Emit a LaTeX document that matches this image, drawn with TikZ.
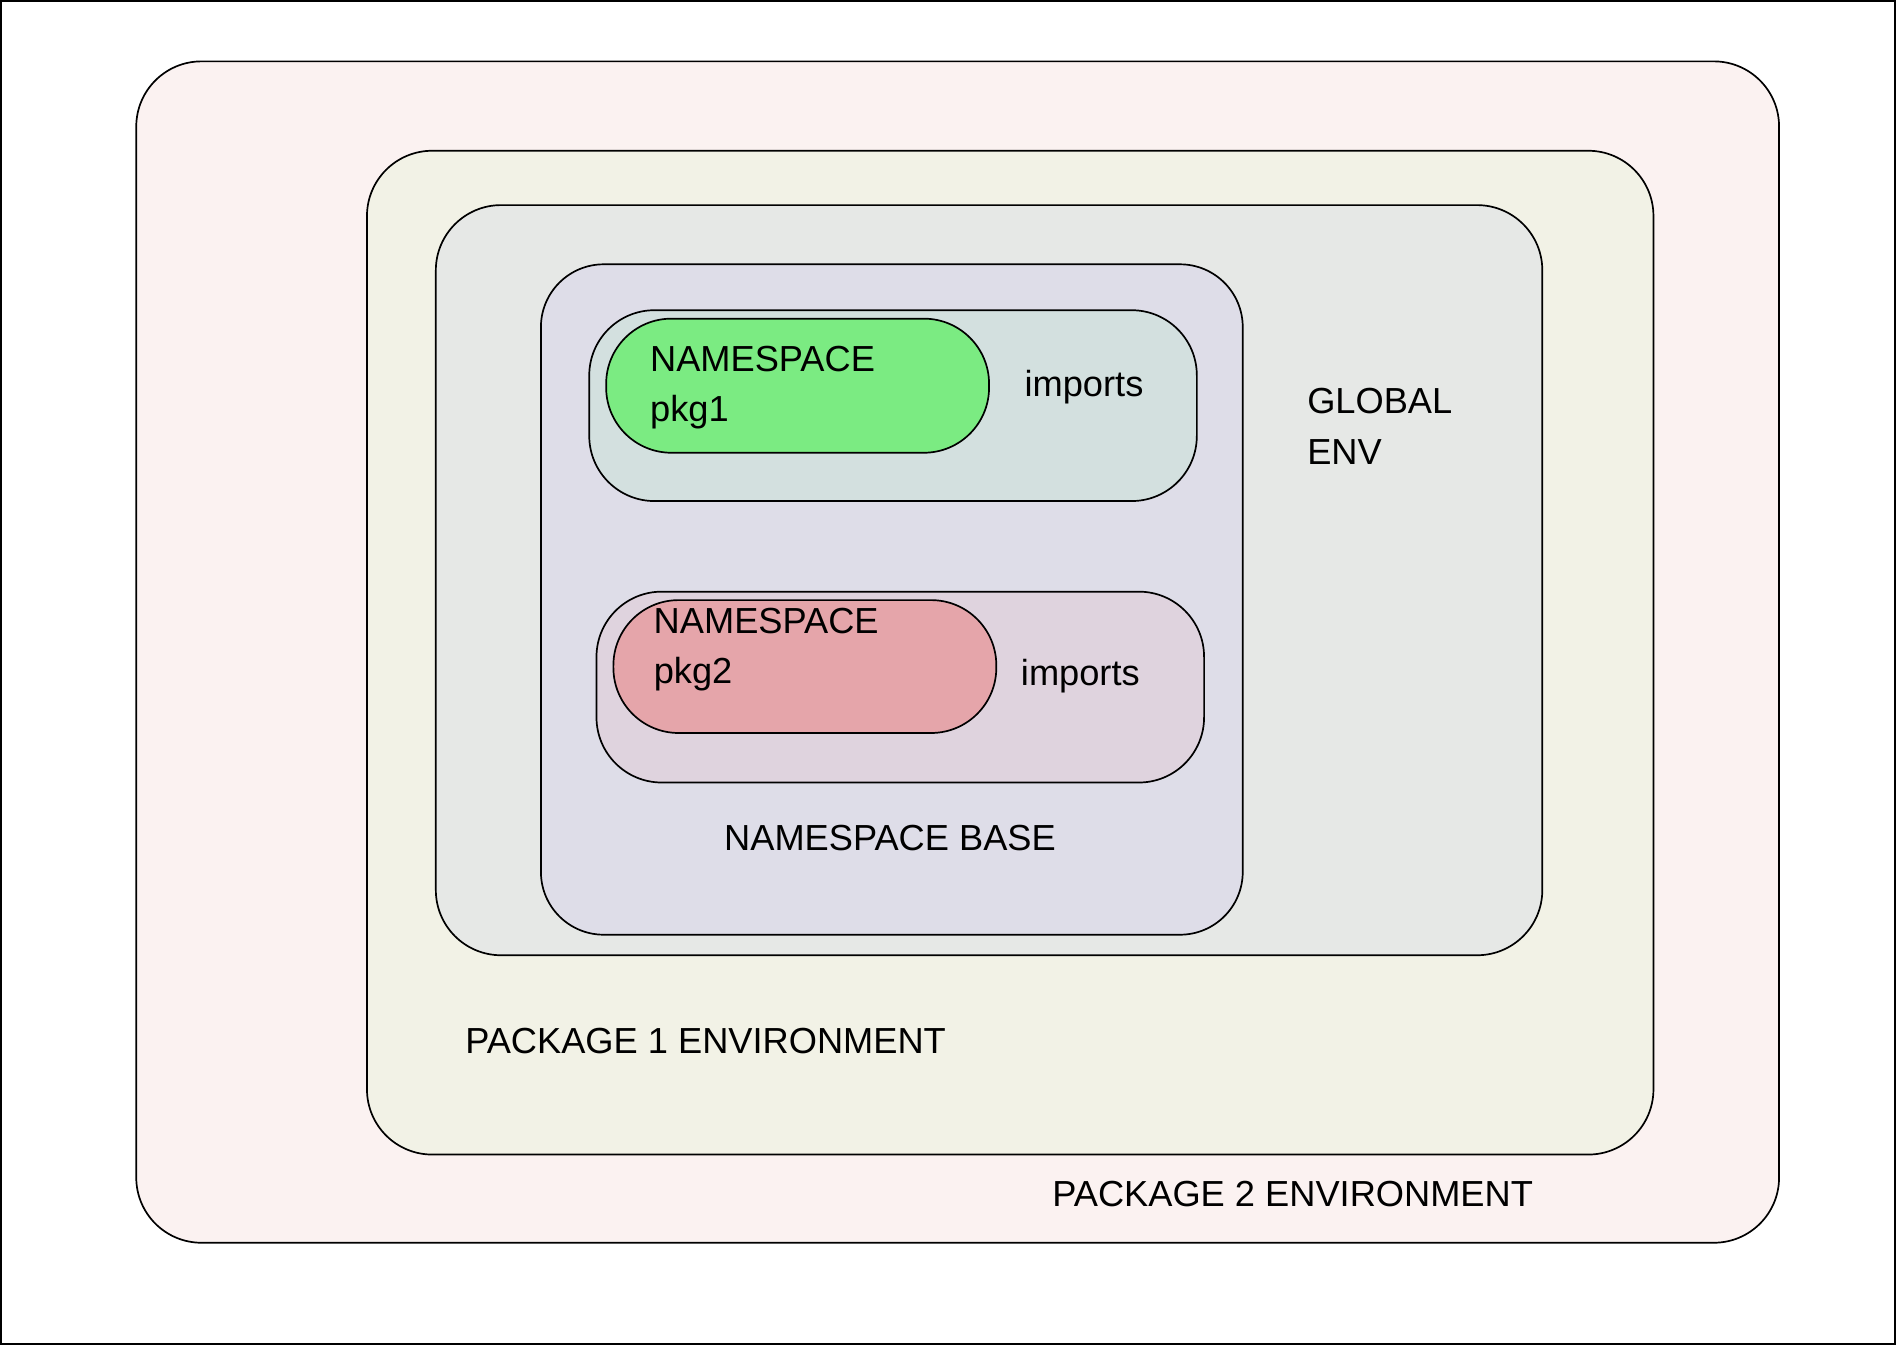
\documentclass[tikz,border=0pt]{standalone}
\usepackage{fontspec}
\setmainfont{Liberation Sans}
\definecolor{cOut}{HTML}{FBF2F1}
\definecolor{cP1}{HTML}{F2F2E6}
\definecolor{cGl}{HTML}{E6E8E6}
\definecolor{cBase}{HTML}{DEDDE8}
\definecolor{cI1}{HTML}{D3E0DF}
\definecolor{cGreen}{HTML}{7BEB82}
\definecolor{cI2}{HTML}{DFD3DE}
\definecolor{cRed}{HTML}{E5A5AA}
\tikzset{box/.style={draw=black,line width=0.7pt},
 lbl/.style={anchor=west,inner sep=0pt,font=\fontsize{15}{21}\selectfont,align=left}}
\begin{document}
\begin{tikzpicture}[x=0.5pt,y=-0.5pt]
\draw[line width=0.8pt,fill=white] (0,0) rectangle (1568,1112);
\useasboundingbox (0,0) rectangle (1568,1112);
\draw[box,fill=cOut,rounded corners=27pt] (112,50) rectangle (1472,1028);
\draw[box,fill=cP1,rounded corners=27pt] (303,124) rectangle (1368,955);
\draw[box,fill=cGl,rounded corners=27pt] (360,169) rectangle (1276,790);
\draw[box,fill=cBase,rounded corners=26pt] (447,218) rectangle (1028,773);
\draw[box,fill=cI1,rounded corners=27pt] (487,256) rectangle (990,414);
\draw[box,fill=cGreen,rounded corners=27pt] (501,263) rectangle (818,374);
\draw[box,fill=cI2,rounded corners=27pt] (493,489) rectangle (996,647);
\draw[box,fill=cRed,rounded corners=27pt] (507,496) rectangle (824,606);
\node[lbl] (n1) at (537,320) {NAMESPACE\\pkg1};
\node[lbl] (i1) at (847,320) {imports};
\node[lbl] (ge) at (1081,352) {GLOBAL\\ENV};
\node[lbl] (n2) at (540,537) {NAMESPACE\\pkg2};
\node[lbl] (i2) at (844,559) {imports};
\node[lbl,anchor=center] (nb) at (736,693) {NAMESPACE BASE};
\node[lbl] (p1) at (384,861) {PACKAGE 1 ENVIRONMENT};
\node[lbl] (p2) at (870,988) {PACKAGE 2 ENVIRONMENT};
\end{tikzpicture}
\end{document}
